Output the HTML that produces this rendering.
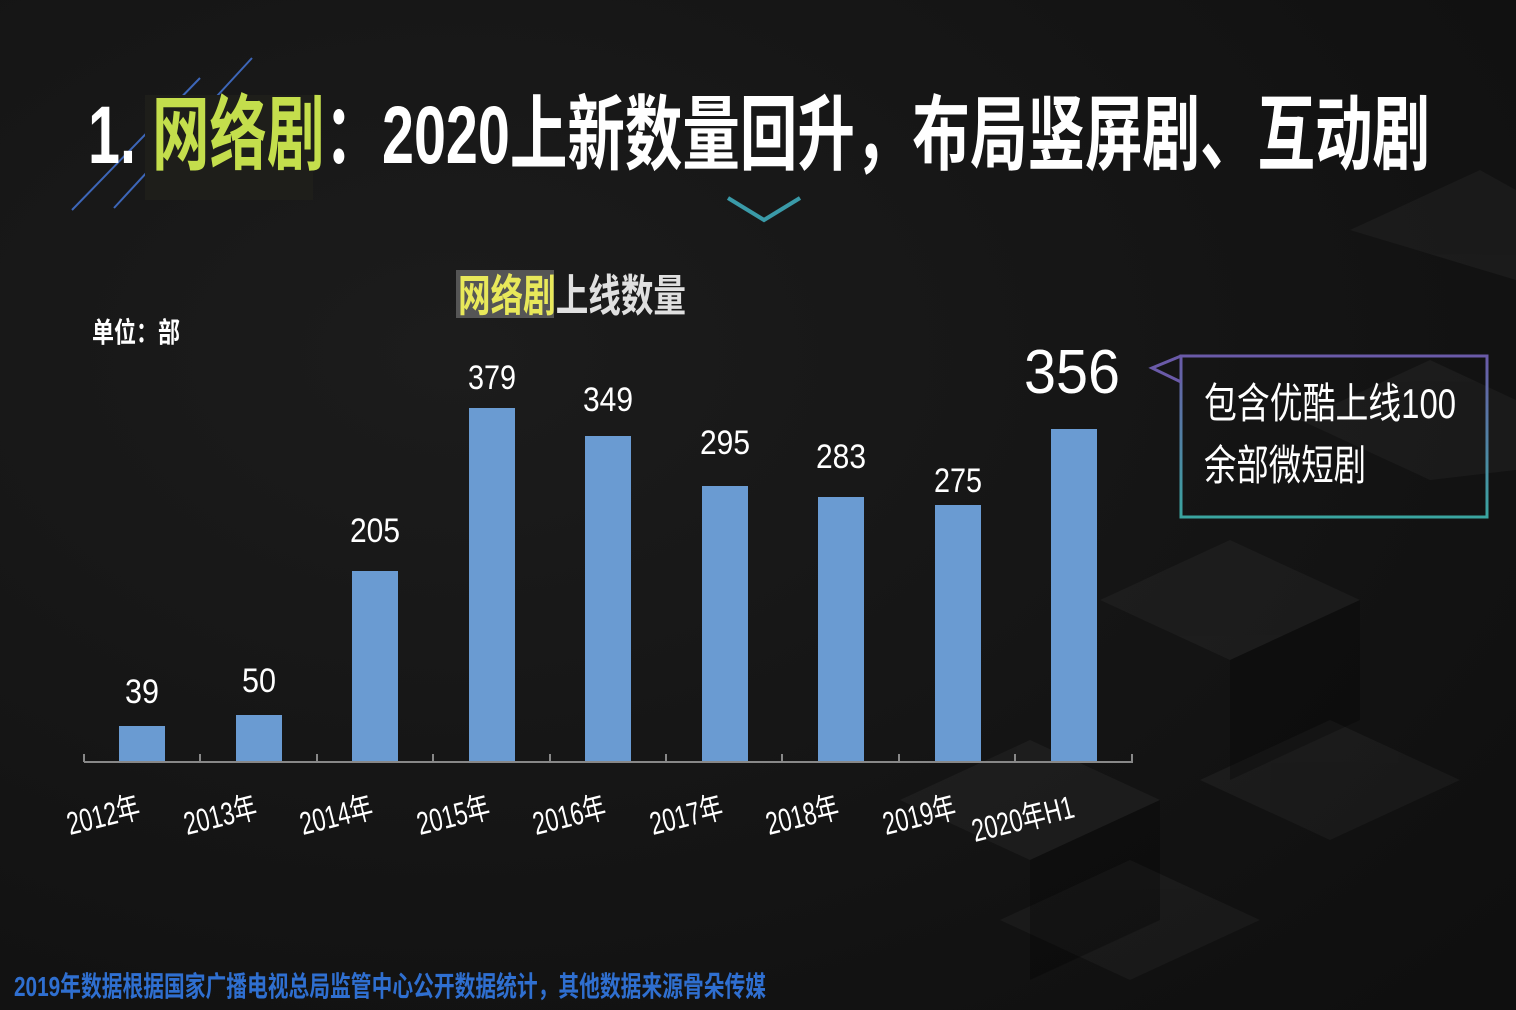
<!DOCTYPE html>
<html><head><meta charset="utf-8"><style>
html,body{margin:0;padding:0;background:#141414;}
svg{display:block}
text{font-family:"Liberation Sans","Noto Sans CJK SC",sans-serif;}
</style></head><body>
<svg width="1516" height="1010" viewBox="0 0 1516 1010" xmlns="http://www.w3.org/2000/svg">
<defs>
<radialGradient id="bg" cx="0.3" cy="0.35" r="0.9">
<stop offset="0" stop-color="#1c1c1c"/><stop offset="1" stop-color="#0f0f0f"/>
</radialGradient>
<linearGradient id="bx" x1="0" y1="0" x2="0" y2="1">
<stop offset="0" stop-color="#6a5aa8"/><stop offset="1" stop-color="#3aa5a0"/>
</linearGradient>
</defs>
<rect width="1516" height="1010" fill="url(#bg)"/>
<g fill="#ffffff" opacity="0.035">
<polygon points="1100,600 1230,540 1360,600 1230,660"/>
<polygon points="1300,420 1430,360 1516,400 1516,470 1430,480"/>
<polygon points="900,800 1030,740 1160,800 1030,860"/>
<polygon points="1200,780 1330,720 1460,780 1330,840"/>
<polygon points="1000,920 1130,860 1260,920 1130,980"/>
<polygon points="1350,230 1480,170 1516,190 1516,280"/>
</g>
<g fill="#000" opacity="0.25">
<polygon points="1230,660 1360,600 1360,720 1230,780"/>
<polygon points="1030,860 1160,800 1160,920 1030,980"/>
</g>
<!-- title -->
<line x1="72" y1="210" x2="200" y2="78" stroke="#3d66b8" stroke-width="2"/>
<line x1="114" y1="208" x2="252" y2="58" stroke="#3d66b8" stroke-width="2"/>
<rect x="145" y="95" width="168" height="105" fill="#1e1e1a"/>
<text x="88" y="163" font-size="82" font-weight="bold" fill="#fff" textLength="1342" lengthAdjust="spacingAndGlyphs">1. <tspan fill="#c4de4c">网络剧</tspan>：2020上新数量回升，布局竖屏剧、互动剧</text>
<polyline points="728,198 764,220 800,198" fill="none" stroke="#3a9aa8" stroke-width="4"/>
<!-- chart title -->
<rect x="456" y="270" width="98" height="48" fill="#555"/>
<text x="458" y="311" font-size="44" font-weight="bold" fill="#e8e85a" textLength="228" lengthAdjust="spacingAndGlyphs">网络剧<tspan fill="#e0e0e0">上线数量</tspan></text>
<text x="92" y="342" font-size="28" font-weight="bold" fill="#fff" textLength="88" lengthAdjust="spacingAndGlyphs">单位：部</text>
<!-- bars -->
<g fill="#6a9bd2">
<rect x="119" y="726" width="46" height="36"/>
<rect x="236" y="715" width="46" height="47"/>
<rect x="352" y="571" width="46" height="191"/>
<rect x="469" y="408" width="46" height="354"/>
<rect x="585" y="436" width="46" height="326"/>
<rect x="702" y="486" width="46" height="276"/>
<rect x="818" y="497" width="46" height="265"/>
<rect x="935" y="505" width="46" height="257"/>
<rect x="1051" y="429" width="46" height="333"/>
</g>
<g stroke="#888" stroke-width="2">
<line x1="84" y1="762" x2="1133" y2="762"/>
<line x1="84" y1="754" x2="84" y2="762"/><line x1="200" y1="754" x2="200" y2="762"/>
<line x1="317" y1="754" x2="317" y2="762"/><line x1="433" y1="754" x2="433" y2="762"/>
<line x1="550" y1="754" x2="550" y2="762"/><line x1="666" y1="754" x2="666" y2="762"/>
<line x1="782" y1="754" x2="782" y2="762"/><line x1="899" y1="754" x2="899" y2="762"/>
<line x1="1015" y1="754" x2="1015" y2="762"/><line x1="1132" y1="754" x2="1132" y2="762"/>
</g>
<g font-size="34" fill="#fff" text-anchor="middle">
<text x="142" y="703" textLength="34" lengthAdjust="spacingAndGlyphs">39</text>
<text x="259" y="692" textLength="34" lengthAdjust="spacingAndGlyphs">50</text>
<text x="375" y="542" textLength="50" lengthAdjust="spacingAndGlyphs">205</text>
<text x="492" y="389" textLength="48" lengthAdjust="spacingAndGlyphs">379</text>
<text x="608" y="411" textLength="50" lengthAdjust="spacingAndGlyphs">349</text>
<text x="725" y="454" textLength="50" lengthAdjust="spacingAndGlyphs">295</text>
<text x="841" y="468" textLength="50" lengthAdjust="spacingAndGlyphs">283</text>
<text x="958" y="492" textLength="48" lengthAdjust="spacingAndGlyphs">275</text>
<text x="1072" y="393" font-size="62" textLength="96" lengthAdjust="spacingAndGlyphs">356</text>
</g>
<g font-size="32" fill="#fff">
<text transform="translate(70,835) rotate(-14)" textLength="74" lengthAdjust="spacingAndGlyphs">2012年</text>
<text transform="translate(187,835) rotate(-14)" textLength="74" lengthAdjust="spacingAndGlyphs">2013年</text>
<text transform="translate(303,835) rotate(-14)" textLength="74" lengthAdjust="spacingAndGlyphs">2014年</text>
<text transform="translate(420,835) rotate(-14)" textLength="74" lengthAdjust="spacingAndGlyphs">2015年</text>
<text transform="translate(536,835) rotate(-14)" textLength="74" lengthAdjust="spacingAndGlyphs">2016年</text>
<text transform="translate(653,835) rotate(-14)" textLength="74" lengthAdjust="spacingAndGlyphs">2017年</text>
<text transform="translate(769,835) rotate(-14)" textLength="74" lengthAdjust="spacingAndGlyphs">2018年</text>
<text transform="translate(886,835) rotate(-14)" textLength="74" lengthAdjust="spacingAndGlyphs">2019年</text>
<text transform="translate(975,842) rotate(-14)" textLength="104" lengthAdjust="spacingAndGlyphs">2020年H1</text>
</g>
<!-- callout -->
<rect x="1181" y="356" width="306" height="161" fill="none" stroke="url(#bx)" stroke-width="3"/>
<polyline points="1181,356 1152,368 1181,382" fill="none" stroke="#6a5aa8" stroke-width="3"/>
<text x="1204" y="418" font-size="42" fill="#fff" textLength="252" lengthAdjust="spacingAndGlyphs">包含优酷上线100</text>
<text x="1204" y="480" font-size="42" fill="#fff" textLength="162" lengthAdjust="spacingAndGlyphs">余部微短剧</text>
<!-- footer -->
<text x="14" y="996" font-size="28" font-weight="bold" fill="#2f6fd0" textLength="752" lengthAdjust="spacingAndGlyphs">2019年数据根据国家广播电视总局监管中心公开数据统计，其他数据来源骨朵传媒</text>
</svg>
</body></html>
